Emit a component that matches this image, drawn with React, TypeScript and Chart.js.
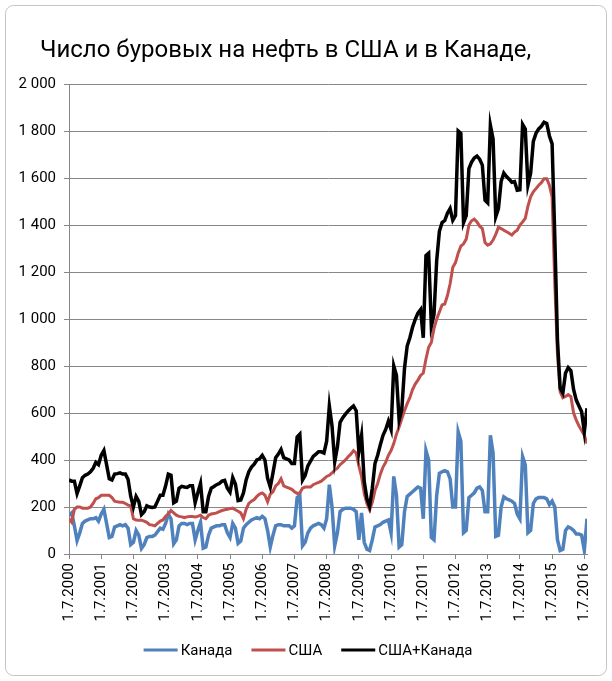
import React, { useEffect, useRef } from 'react';
import { Chart, registerables } from 'chart.js';

Chart.register(...registerables);

const chartTitle = 'Число буровых на нефть в США и в Канаде,';
const seriesNames = ['Канада', 'США', 'США+Канада'];
const seriesColors = ['#4F81BD', '#C0504D', '#000000'];

// Year tick labels (one every 12 monthly points)
const xTickLabels = [
  '1.7.2000', '1.7.2001', '1.7.2002', '1.7.2003', '1.7.2004', '1.7.2005',
  '1.7.2006', '1.7.2007', '1.7.2008', '1.7.2009', '1.7.2010', '1.7.2011',
  '1.7.2012', '1.7.2013', '1.7.2014', '1.7.2015', '1.7.2016',
];

// Monthly values, Jan 2000 ... Feb 2016
const canadaRigs = [
  165, 175, 120, 57, 90, 130, 140, 145, 150, 150, 155, 140,
  170, 190, 130, 70, 75, 115, 120, 125, 120, 125, 110, 40,
  50, 100, 80, 24, 40, 70, 75, 75, 80, 95, 110, 105,
  130, 170, 150, 43, 60, 120, 130, 130, 125, 130, 130, 60,
  100, 135, 25, 30, 80, 110, 115, 120, 120, 125, 125, 90,
  70, 130, 110, 45, 55, 110, 125, 135, 145, 150, 155, 150,
  160, 150, 100, 30, 80, 120, 125, 125, 120, 120, 120, 110,
  120, 240, 250, 35, 50, 90, 110, 120, 125, 130, 125, 110,
  150, 295, 200, 35, 90, 180, 190, 195, 195, 195, 190, 180,
  60, 175, 50, 20, 15, 60, 115, 120, 125, 135, 140, 145,
  90, 330, 250, 30, 40, 180, 245, 255, 265, 275, 285, 280,
  150, 440, 400, 70, 60, 250, 343, 350, 355, 350, 320, 200,
  200, 520, 480, 90, 100, 240, 250, 260, 280, 285, 270, 180,
  180, 505, 430, 75, 80, 200, 243, 235, 230, 225, 215, 170,
  150, 415, 380, 90, 100, 215, 235, 240, 240, 240, 235, 210,
  225, 200, 60, 15, 20, 100, 115, 110, 100, 85, 85, 80,
  15, 150,
];

const usaRigs = [
  150, 135, 190, 200, 200, 195, 195, 195, 200, 215, 235, 240,
  250, 250, 250, 250, 240, 225, 222, 220, 220, 215, 208, 205,
  150, 145, 144, 144, 140, 135, 125, 123, 120, 130, 140, 145,
  160, 170, 185, 175, 165, 160, 158, 155, 158, 160, 160, 158,
  160, 165, 155, 150, 165, 170, 172, 175, 180, 185, 188, 190,
  193, 195, 188, 182, 175, 150, 190, 215, 225, 232, 245, 255,
  260, 250, 222, 255, 265, 290, 300, 320, 290, 285, 280, 275,
  265, 258, 260, 280, 285, 285, 285, 295, 300, 305, 310, 320,
  330, 335, 345, 357, 365, 380, 390, 400, 414, 425, 440, 430,
  375, 330, 258, 215, 188, 220, 270, 300, 340, 370, 390, 420,
  440, 470, 510, 540, 575, 610, 640, 665, 700, 723, 740, 760,
  770, 830, 880, 900, 960, 1000, 1030, 1060, 1064, 1100, 1150, 1220,
  1240, 1280, 1310, 1320, 1340, 1400, 1418, 1425, 1413, 1395, 1385, 1325,
  1314, 1320, 1336, 1360, 1390, 1385, 1378, 1371, 1365, 1357, 1370, 1378,
  1400, 1413, 1428, 1480, 1520, 1541, 1555, 1569, 1580, 1597, 1597, 1569,
  1520, 1150, 850, 690, 665, 670, 678, 670, 600, 570, 545, 525,
  505, 470,
];

const totalRigs = [
  315, 310, 310, 257, 290, 325, 335, 340, 350, 365, 390, 380,
  420, 440, 380, 320, 315, 340, 342, 345, 340, 340, 318, 245,
  200, 245, 224, 168, 180, 205, 200, 198, 200, 225, 250, 250,
  290, 340, 335, 218, 225, 280, 288, 285, 283, 290, 290, 218,
  260, 300, 180, 180, 245, 280, 287, 295, 300, 310, 313, 280,
  263, 325, 298, 227, 230, 260, 315, 350, 370, 382, 400, 405,
  420, 400, 322, 285, 345, 410, 425, 445, 410, 405, 400, 385,
  385, 498, 510, 315, 335, 375, 395, 415, 425, 435, 435, 430,
  480, 630, 545, 392, 455, 560, 580, 595, 609, 620, 630, 610,
  435, 505, 308, 235, 203, 280, 385, 420, 465, 505, 530, 565,
  530, 800, 760, 570, 615, 790, 885, 920, 965, 998, 1025, 1040,
  920, 1270, 1280, 970, 1020, 1250, 1373, 1410, 1419, 1450, 1470, 1420,
  1440, 1800, 1790, 1410, 1440, 1640, 1668, 1685, 1693, 1680, 1655, 1505,
  1494, 1825, 1766, 1435, 1470, 1585, 1621, 1606, 1595, 1582, 1585, 1548,
  1550, 1828, 1808, 1570, 1620, 1756, 1790, 1809, 1820, 1837, 1832, 1779,
  1745, 1350, 910, 705, 685, 770, 793, 780, 700, 655, 630, 605,
  520, 620,
];

const FONT = 'Roboto, "Noto Sans", "DejaVu Sans", sans-serif';
const GRID = '#878787';

function formatThousands(v: number): string {
  if (v >= 1000) {
    return Math.floor(v / 1000) + ' ' + String(v % 1000).padStart(3, '0');
  }
  return String(v);
}

function toPoints(arr: number[]) {
  return arr.map((y, i) => ({ x: i, y }));
}

const decorPlugin = {
  id: 'decor',
  beforeDraw(chart: any) {
    const { ctx, width, height } = chart;
    ctx.save();
    ctx.fillStyle = '#ffffff';
    ctx.fillRect(0, 0, width, height);
    const x = 5.5, y = 5.5, w = width - 11, h = height - 11, r = 8;
    ctx.beginPath();
    ctx.moveTo(x + r, y);
    ctx.arcTo(x + w, y, x + w, y + h, r);
    ctx.arcTo(x + w, y + h, x, y + h, r);
    ctx.arcTo(x, y + h, x, y, r);
    ctx.arcTo(x, y, x + w, y, r);
    ctx.closePath();
    ctx.strokeStyle = '#c4c4c4';
    ctx.lineWidth = 1;
    ctx.stroke();
    ctx.restore();
  },
  afterDraw(chart: any) {
    const { ctx, width } = chart;
    ctx.save();
    // Title
    ctx.fillStyle = '#000';
    ctx.font = `24px ${FONT}`;
    ctx.textAlign = 'left';
    ctx.textBaseline = 'alphabetic';
    ctx.fillText(chartTitle, 40, 57);

    // Legend
    ctx.font = `15px ${FONT}`;
    ctx.textBaseline = 'middle';
    const lineLen = 34;
    const textGap = 3;
    const itemGap = 19;
    const items = chart.data.datasets.map((ds: any) => ({
      label: ds.label as string,
      color: ds.borderColor as string,
      w: lineLen + textGap + ctx.measureText(ds.label).width,
    }));
    const total = items.reduce((s: number, it: any) => s + it.w, 0) + itemGap * (items.length - 1);
    let lx = width / 2 - total / 2 + 2;
    const ly = 650;
    for (const it of items) {
      ctx.strokeStyle = it.color;
      ctx.lineWidth = 3;
      ctx.beginPath();
      ctx.moveTo(lx, ly);
      ctx.lineTo(lx + lineLen, ly);
      ctx.stroke();
      ctx.fillStyle = '#000';
      ctx.fillText(it.label, lx + lineLen + textGap, ly + 1);
      lx += it.w + itemGap;
    }
    ctx.restore();
  },
};

export default function App() {
  const canvasRef = useRef<HTMLCanvasElement | null>(null);

  useEffect(() => {
    if (!canvasRef.current) return;
    const chart = new Chart(canvasRef.current, {
      type: 'line',
      data: {
        datasets: [
          {
            label: seriesNames[0],
            data: toPoints(canadaRigs),
            borderColor: seriesColors[0],
            backgroundColor: seriesColors[0],
            borderWidth: 3.5,
            pointRadius: 0,
            tension: 0,
            order: 3,
          },
          {
            label: seriesNames[1],
            data: toPoints(usaRigs),
            borderColor: seriesColors[1],
            backgroundColor: seriesColors[1],
            borderWidth: 3,
            pointRadius: 0,
            tension: 0,
            order: 2,
          },
          {
            label: seriesNames[2],
            data: toPoints(totalRigs),
            borderColor: seriesColors[2],
            backgroundColor: seriesColors[2],
            borderWidth: 3.5,
            pointRadius: 0,
            tension: 0,
            order: 1,
          },
        ],
      },
      options: {
        animation: false,
        responsive: false,
        devicePixelRatio: 1,
        layout: { padding: { left: 0, right: 25, top: 84, bottom: 47 } },
        plugins: {
          legend: { display: false },
          title: { display: false },
          tooltip: { enabled: false },
        },
        scales: {
          x: {
            type: 'linear',
            min: 0,
            max: 193,
            afterBuildTicks: (scale: any) => {
              scale.ticks = xTickLabels.map((_, k) => ({ value: k * 12 }));
            },
            afterFit: (scale: any) => {
              scale.height = 80;
            },
            ticks: {
              autoSkip: false,
              minRotation: 90,
              maxRotation: 90,
              padding: 4,
              color: '#000',
              font: { family: FONT, size: 15 },
              callback: (v: any) => xTickLabels[Math.round(Number(v) / 12)] ?? '',
            },
            grid: { drawOnChartArea: false, drawTicks: true, tickLength: 5, color: GRID },
            border: { color: GRID, width: 1 },
          },
          y: {
            min: 0,
            max: 2000,
            afterFit: (scale: any) => {
              scale.width = 69;
            },
            ticks: {
              stepSize: 200,
              padding: 8,
              color: '#000',
              font: { family: FONT, size: 15 },
              callback: (v: any) => formatThousands(Number(v)),
            },
            grid: { color: GRID, tickLength: 5, drawTicks: true },
            border: { color: GRID, width: 1 },
          },
        },
      },
      plugins: [decorPlugin],
    });
    return () => chart.destroy();
  }, []);

  return (
    <div style={{ position: 'fixed', left: 0, top: 0, width: 612, height: 681, background: '#fff' }}>
      <canvas ref={canvasRef} width={612} height={681} style={{ display: 'block' }} />
    </div>
  );
}
